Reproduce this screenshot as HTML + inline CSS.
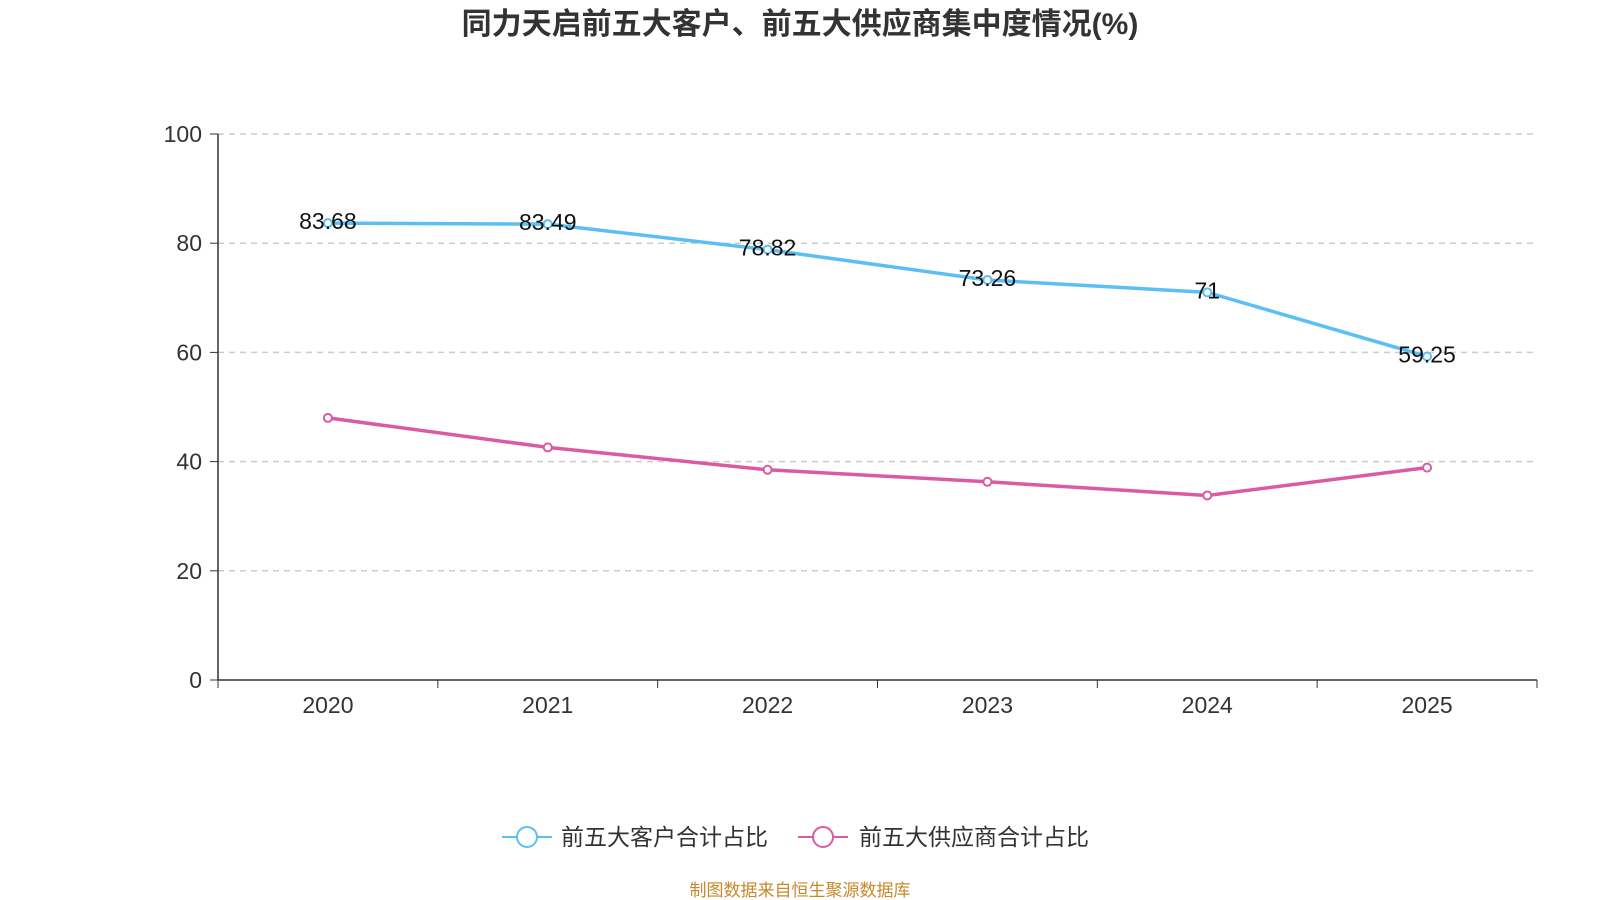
<!DOCTYPE html>
<html><head><meta charset="utf-8"><style>
body{margin:0;background:#fff;}
svg{display:block;font-family:"Liberation Sans","Noto Sans CJK SC",sans-serif;}
</style></head><body>
<svg id="chart" width="1600" height="900">
<text x="800" y="34" text-anchor="middle" font-size="30" font-weight="bold" fill="#333">同力天启前五大客户、前五大供应商集中度情况(%)</text>
<g id="grid"></g><g id="axes"></g><g id="series"></g>
<g>
<g>
<line x1="502" y1="837" x2="552" y2="837" stroke="#5bbff5" stroke-width="2"/>
<circle cx="527" cy="837" r="10" fill="#fff" stroke="#5bbff5" stroke-width="2"/>
<text x="561" y="845" font-size="23" fill="#333">前五大客户合计占比</text></g>
<g>
<line x1="798" y1="837" x2="848" y2="837" stroke="#d95ba6" stroke-width="2"/>
<circle cx="823" cy="837" r="10" fill="#fff" stroke="#d95ba6" stroke-width="2"/>
<text x="859" y="845" font-size="23" fill="#333">前五大供应商合计占比</text></g>
</g>
<text x="800" y="896" text-anchor="middle" font-size="17" fill="#c8892a">制图数据来自恒生聚源数据库</text>
</svg>
<script>
const categories=["2020","2021","2022","2023","2024","2025"];
const customers=[83.68,83.49,78.82,73.26,71,59.25];
const suppliers=[48.0,42.6,38.5,36.3,33.8,38.9];
const yTicks=[0,20,40,60,80,100];
const NS="http://www.w3.org/2000/svg";
const L=218,R=1537,T=134,B=680;
const bw=(R-L)/categories.length;
const x=i=>L+bw*(i+0.5);
const y=v=>B-(v/100)*(B-T);
function mk(p,tag,a){const e=document.createElementNS(NS,tag);for(const k in a)e.setAttribute(k,a[k]);p.appendChild(e);return e;}
const grid=document.getElementById('grid'),axes=document.getElementById('axes'),ser=document.getElementById('series');
yTicks.forEach(t=>{
 if(t>0){const g=mk(grid,'line',{x1:L,x2:R,y1:y(t),y2:y(t),stroke:'#ccc','stroke-dasharray':'6,5','stroke-width':1.5});
 
 }
 mk(axes,'line',{x1:L-8,x2:L,y1:y(t),y2:y(t),stroke:'#333'});
 const tx=mk(axes,'text',{x:L-16,y:y(t)+8,'text-anchor':'end','font-size':23,fill:'#333'});tx.textContent=t;
 
 
});
mk(axes,'line',{x1:L,x2:L,y1:T,y2:B,stroke:'#333','stroke-width':1.5});
mk(axes,'line',{x1:L,x2:R,y1:B,y2:B,stroke:'#333','stroke-width':1.5});
for(let i=0;i<=categories.length;i++)mk(axes,'line',{x1:L+bw*i,x2:L+bw*i,y1:B,y2:B+8,stroke:'#333'});
categories.forEach((c,i)=>{const t=mk(axes,'text',{x:x(i),y:B+33,'text-anchor':'middle','font-size':23,fill:'#333'});t.textContent=c;
 
 });
function draw(vals,color,name,labels){
 const p=mk(ser,'polyline',{points:vals.map((v,i)=>x(i)+','+y(v)).join(' '),fill:'none',stroke:color,'stroke-width':3.5});
 
 
 vals.forEach((v,i)=>{const c=mk(ser,'circle',{cx:x(i),cy:y(v),r:4,fill:'#fff',stroke:color,'stroke-width':2});
  
  
  if(labels){const t=mk(ser,'text',{x:x(i),y:y(v)+6,'text-anchor':'middle','font-size':23,fill:'#111'});t.textContent=v;
  
  }
 });
}
draw(suppliers,'#d95ba6','suppliers',false);
draw(customers,'#5bbff5','customers',true);
</script>
</body></html>
